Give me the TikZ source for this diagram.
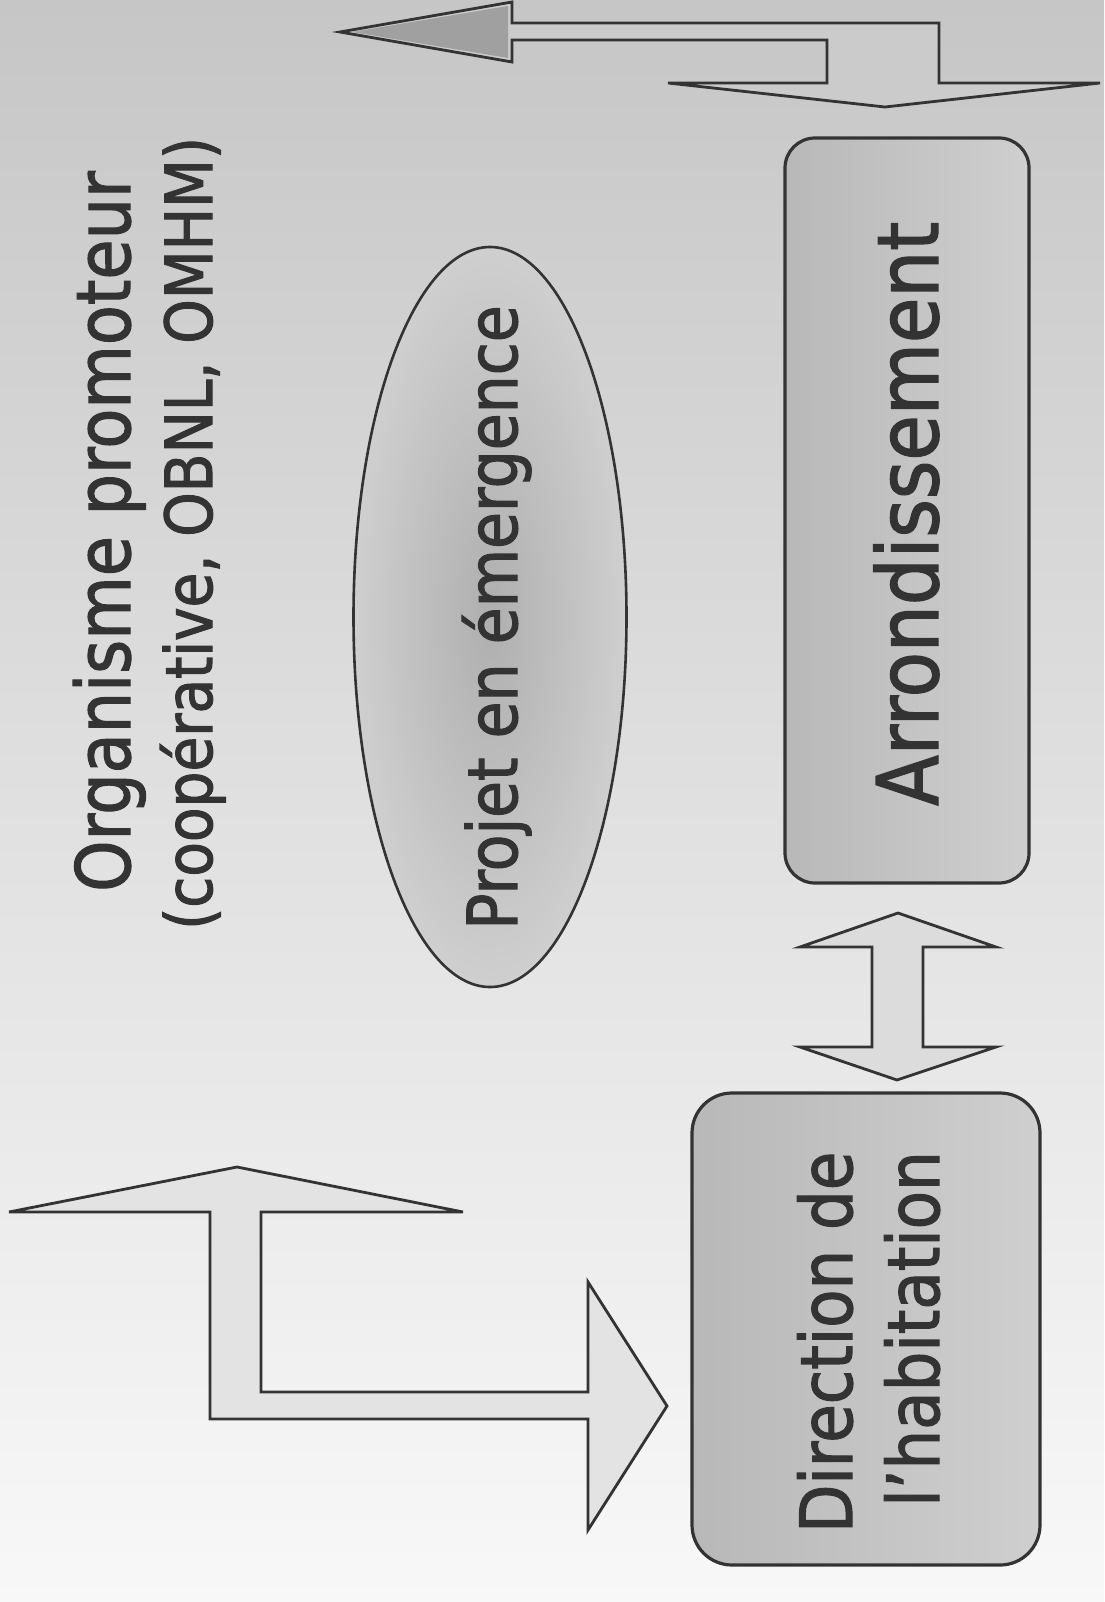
\documentclass[tikz,border=0pt]{standalone}
\usepackage{fontspec}
\newfontfamily\slidefont[FakeStretch=0.87,FakeBold=1.6]{DejaVu Sans}
\usetikzlibrary{shapes.geometric}
\definecolor{ink}{HTML}{333333}
\definecolor{bgtop}{HTML}{C6C6C6}
\definecolor{bgmid}{HTML}{E0E0E0}
\definecolor{bgbot}{HTML}{F8F8F8}
\definecolor{boxdark}{HTML}{B8B8B8}
\definecolor{boxlight}{HTML}{CFCFCF}
\definecolor{arrowfill}{HTML}{DCDCDC}
\definecolor{arrowtop}{HTML}{CBCBCB}
\definecolor{headdark}{HTML}{A0A0A0}
\begin{document}
\begin{tikzpicture}[x=1pt,y=-1pt,
  rbox/.style={draw=ink, line width=3.2pt, left color=boxdark, right color=boxlight, inner sep=0pt},
  oval/.style={ellipse, draw=ink, line width=2.6pt, inner color=boxdark!95!black, outer color=boxlight, inner sep=0pt},
  blockarrow/.style={draw=ink, line width=2.8pt, line join=miter},
  txt/.style={inner sep=0pt, text=ink, rotate=90, anchor=base west}]
% background
\useasboundingbox (0,0) rectangle (1104,1602);
\fill[top color=bgtop, bottom color=bgbot, middle color=bgmid] (0,0) rectangle (1104,1602);

% boxes and ellipse
\node[rbox, rounded corners=30pt, minimum width=244pt, minimum height=745pt] (arr) at (907,510.5) {};
\node[rbox, rounded corners=40pt, minimum width=348pt, minimum height=472pt] (dir) at (866,1329) {};
\node[oval, minimum width=273pt, minimum height=740pt] (proj) at (490,617) {};

% texts
\node[txt, font={\slidefont\fontsize{75}{80}\selectfont}] (org) at (130,892) {Organisme promoteur};
\node[txt, font={\slidefont\fontsize{65}{70}\selectfont}] (orgsub) at (212,930) {(coopérative, OBNL, OMHM)};
\node[txt, font={\slidefont\fontsize{69}{74}\selectfont}] (projtxt) at (517,930) {Projet en émergence};
\node[txt, font={\slidefont\fontsize{85}{90}\selectfont}] (arrtxt) at (938,806) {Arrondissement};
\node[txt, font={\slidefont\fontsize{72}{76}\selectfont}] (dirtxt1) at (852,1533) {Direction de};
\node[txt, font={\slidefont\fontsize{72}{76}\selectfont}] (dirtxt2) at (939,1507) {l’habitation};

% top bent arrow (organisme <-> arrondissement)
\fill[arrowtop] (340,32) -- (512,2) -- (512,23) -- (939,23) -- (939,83) -- (1100,83)
  -- (885,107) -- (668,83) -- (827,83) -- (827,40) -- (512,40) -- (512,62) -- cycle;
\fill[headdark] (352,32) -- (508,6) -- (508,58) -- cycle;
\draw[blockarrow] (340,32) -- (512,2) -- (512,23) -- (939,23) -- (939,83) -- (1100,83)
  -- (885,107) -- (668,83) -- (827,83) -- (827,40) -- (512,40) -- (512,62) -- cycle;

% double arrow between arrondissement and direction
\draw[blockarrow, fill=arrowfill] (898,913) -- (996,947) -- (923,947) -- (923,1047) -- (996,1047)
  -- (897,1080) -- (800,1047) -- (872,1047) -- (872,947) -- (800,947) -- cycle;

% bottom-left bent arrow
\draw[blockarrow, fill=arrowfill!80!white] (237,1167) -- (463,1212) -- (261,1212) -- (261,1392) -- (588,1392)
  -- (588,1282) -- (667,1406) -- (588,1530) -- (588,1419) -- (210,1419) -- (210,1212) -- (9,1212) -- cycle;
\end{tikzpicture}
\end{document}
